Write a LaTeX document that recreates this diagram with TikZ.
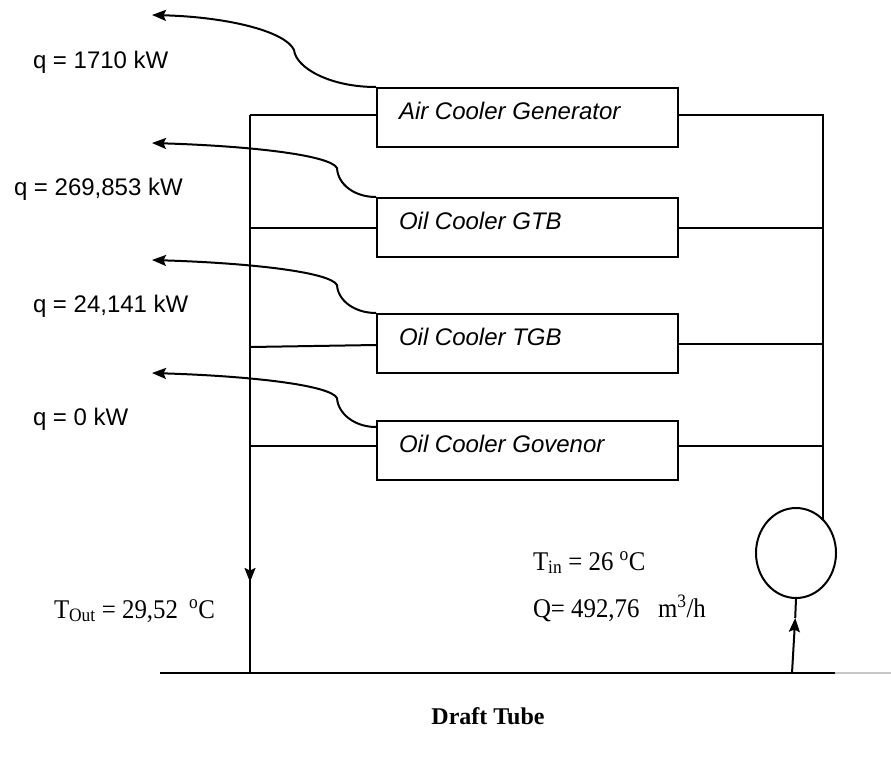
\documentclass[tikz,border=0pt]{standalone}
\usepackage{fontspec}
\setmainfont{Liberation Serif}
\setsansfont{Liberation Sans}
\usetikzlibrary{arrows.meta,shapes.geometric}
\begin{document}
\begin{tikzpicture}[x=1pt,y=-1pt,line width=2pt,
  box/.style={draw,rectangle,minimum width=301pt,minimum height=59pt,inner sep=0pt,anchor=north west},
  blbl/.style={font=\sffamily\itshape\fontsize{24}{28}\selectfont,anchor=base west,inner sep=0pt},
  qlbl/.style={font=\sffamily\fontsize{24}{28}\selectfont,anchor=base west,inner sep=0pt},
  tlbl/.style={font=\fontsize{27}{32}\selectfont,anchor=base west,inner sep=0pt},
  arr/.style={-{Stealth[length=14pt,width=11pt,inset=2.5pt]}}]
\useasboundingbox (0,0) rectangle (891,756);

% boxes
\node[box] (A) at (376,87) {};
\node[box] (B) at (376,197) {};
\node[box] (C) at (376,313) {};
\node[box] (D) at (376,420) {};
\node[blbl] (la) at (398,119) {Air Cooler Generator};
\node[blbl] (lb) at (398,229) {Oil Cooler GTB};
\node[blbl] (lc) at (398,345) {Oil Cooler TGB};
\node[blbl] (ld) at (398,452) {Oil Cooler Govenor};

% pump
\node[draw,ellipse,minimum width=80pt,minimum height=90pt,inner sep=0pt] (P) at (796,553) {};

% coordinates
\coordinate (lv) at (250,115);
\coordinate (lbot) at (250,673);
\coordinate (rv) at (823,115);
\coordinate (rin) at (823,520);
\coordinate (bl) at (160,673);
\coordinate (bk) at (835,673);
\coordinate (br) at (891,673);
\coordinate (pb) at (792,673);
\coordinate (pa) at (795.2,618);
\coordinate (la1) at (250,560);
\coordinate (la2) at (250,582);
\coordinate (t1) at (152,15);
\coordinate (t2) at (152,143);
\coordinate (t3) at (152,260);
\coordinate (t4) at (152,373);

% left manifold
\draw (lv) -- (lbot);
\draw[arr] (la1) -- (la2);
\draw (lv) -- (A.west |- lv);
\draw (lv |- 0,228) -- (B.west |- 0,228);
\draw (250,347) -- (376,345);
\draw (lv |- 0,446) -- (D.west |- 0,446);

% right manifold
\draw (A.east |- rv) -- (rv) -- (rin);
\draw (B.east |- 0,228) -- (rv |- 0,228);
\draw (C.east |- 0,344) -- (rv |- 0,344);
\draw (D.east |- 0,446) -- (rv |- 0,446);

% bottom line
\draw (bl) -- (bk);
\draw[gray!45,line width=1.4pt] (bk) -- (br);
\draw[arr] (pb) -- (pa);
\draw (pa) -- (P.south);

% heat curves
\draw[arr] (A.north west) .. controls (330,87) and (296,68) .. (294,50)
   .. controls (286,32) and (230,17) .. (t1);
\draw[arr] (B.north west) .. controls (355,197) and (338,185) .. (337,168)
   .. controls (330,155) and (250,146) .. (t2);
\draw[arr] (C.north west) .. controls (355,313) and (338,301) .. (337,285)
   .. controls (330,272) and (250,263) .. (t3);
\draw[arr] ([yshift=-7pt]D.north west) .. controls (355,427) and (338,414) .. (337,398)
   .. controls (330,385) and (250,376) .. (t4);

% q labels
\node[qlbl] (q1) at (32,68) {q = 1710 kW};
\node[qlbl] (q2) at (13,195) {q = 269,853 kW};
\node[qlbl] (q3) at (32,312) {q = 24,141 kW};
\node[qlbl] (q4) at (32,425) {q = 0 kW};

% temperatures
\node[tlbl] (tout) at (53,618) {\scalebox{0.92}[1]{T\textsubscript{Out} = 29,52\hspace{0.45em}\textsuperscript{o}C}};
\node[tlbl] (tin) at (532,570) {\scalebox{0.92}[1]{T\textsubscript{in} = 26 \textsuperscript{o}C}};
\node[tlbl] (flow) at (532,617) {\scalebox{0.92}[1]{Q= 492,76\hspace{0.5em} m\textsuperscript{3}/h}};

\node[font=\bfseries\fontsize{24}{28}\selectfont,anchor=base,inner sep=0pt] (dt) at (488,724) {Draft Tube};
\end{tikzpicture}
\end{document}
